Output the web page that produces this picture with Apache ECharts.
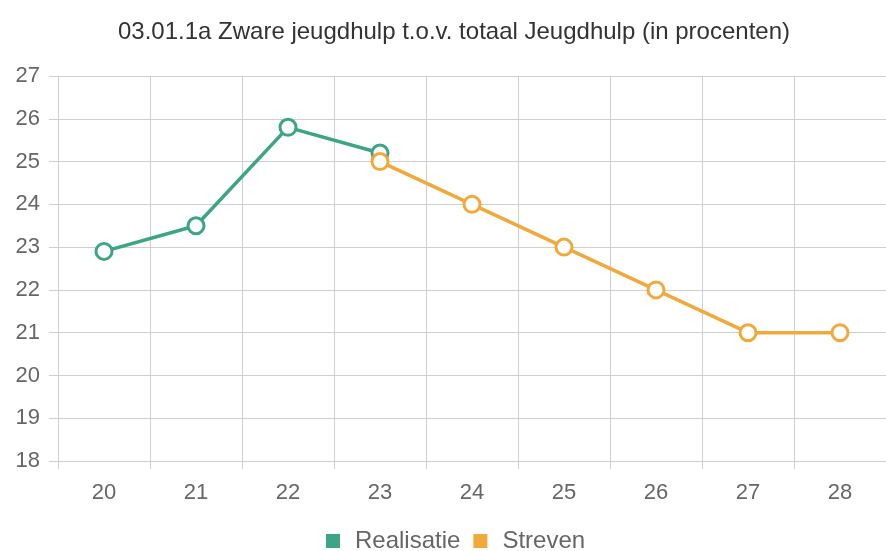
<!DOCTYPE html>
<html>
<head>
<meta charset="utf-8">
<script src="https://cdn.jsdelivr.net/npm/echarts@6/dist/echarts.min.js"></script>
<style>
  html, body { margin: 0; padding: 0; background: #fff; }
  #chart { width: 886px; height: 551px; }
</style>
</head>
<body>
<div id="chart"></div>
<script>
const jaren = ['20', '21', '22', '23', '24', '25', '26', '27', '28'];
const realisatie = [22.9, 23.5, 25.8, 25.2, null, null, null, null, null];
const streven = [null, null, null, 25, 24, 23, 22, 21, 21];

const groen = '#3ba585';
const oranje = '#f2a93b';
const gridColor = '#cfcfcf';
const labelColor = '#666';
const fontFamily = '"Liberation Sans", Arial, sans-serif';

const chart = echarts.init(document.getElementById('chart'));

chart.setOption({
  animation: false,
  title: {
    text: '03.01.1a Zware jeugdhulp t.o.v. totaal Jeugdhulp (in procenten)',
    left: 113,
    top: 15,
    textStyle: {
      fontSize: 24,
      fontWeight: 'normal',
      color: '#333',
      fontFamily,
    },
  },
  legend: {
    top: 524,
    left: 321,
    itemWidth: 14,
    itemHeight: 14,
    itemGap: 13,
    icon: 'rect',
    textStyle: {
      fontSize: 24,
      color: labelColor,
      fontFamily,
      padding: [0, 0, 0, 10],
    },
    data: [
      { name: 'Realisatie', itemStyle: { color: groen, borderWidth: 0 } },
      { name: 'Streven', itemStyle: { color: oranje, borderWidth: 0 } },
    ],
  },
  grid: {
    left: 58,
    top: 76,
    width: 836,
    height: 385,
  },
  xAxis: {
    type: 'category',
    data: jaren,
    boundaryGap: true,
    axisLine: { show: false },
    axisTick: {
      show: true,
      length: 8,
      lineStyle: { color: gridColor },
    },
    splitLine: {
      show: true,
      lineStyle: { color: gridColor },
    },
    axisLabel: {
      fontSize: 22,
      color: labelColor,
      fontFamily,
      margin: 21,
    },
  },
  yAxis: {
    type: 'value',
    min: 18,
    max: 27,
    interval: 1,
    axisLine: { show: false },
    axisTick: {
      show: true,
      length: 9,
      lineStyle: { color: gridColor },
    },
    splitLine: {
      lineStyle: { color: gridColor },
    },
    axisLabel: {
      fontSize: 22,
      color: labelColor,
      fontFamily,
      margin: 18,
    },
  },
  series: [
    {
      name: 'Realisatie',
      type: 'line',
      data: realisatie,
      symbol: 'circle',
      symbolSize: 16,
      lineStyle: { width: 3.5, color: groen },
      itemStyle: { color: '#fff', borderColor: groen, borderWidth: 3 },
      z: 2,
    },
    {
      name: 'Streven',
      type: 'line',
      data: streven,
      symbol: 'circle',
      symbolSize: 16,
      lineStyle: { width: 3.5, color: oranje },
      itemStyle: { color: '#fff', borderColor: oranje, borderWidth: 3 },
      z: 3,
    },
  ],
});
</script>
</body>
</html>
